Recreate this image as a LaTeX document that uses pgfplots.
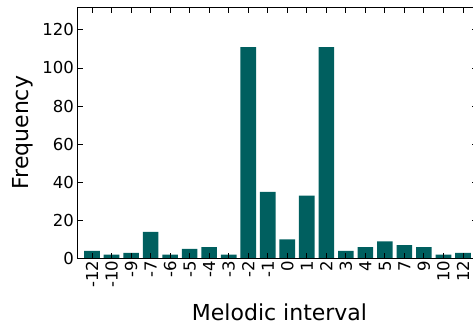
\documentclass[border=0pt]{standalone}
\usepackage{fontspec}
\setmainfont{DejaVu Sans}
\usepackage{pgfplots}
\usepackage{pgfplotstable}
\pgfplotsset{compat=1.18}

\definecolor{barteal}{HTML}{005F5F}

% interval counts, one row per interval
\pgfplotstableread{
idx label val
0  -12 4
1  -10 2
2  -9  3
3  -7  14
4  -6  2
5  -5  5
6  -4  6
7  -3  2
8  -2  111
9  -1  35
10 0   10
11 1   33
12 2   111
13 3   4
14 4   6
15 5   9
16 7   7
17 9   6
18 10  2
19 12  3
}\intervals

\begin{document}
\begin{tikzpicture}
\useasboundingbox (0,0) rectangle (473pt,325pt);
\begin{axis}[
  at={(77pt,66.5pt)}, anchor=south west,
  scale only axis,
  width=401pt, height=251.5pt,
  xmin=-0.77, xmax=19.77,
  ymin=0, ymax=132,
  xtick=data,
  xticklabels from table={\intervals}{label},
  ytick={0,20,40,60,80,100,120},
  tick align=inside,
  tick pos=both,
  xticklabel pos=lower,
  yticklabel pos=left,
  major tick length=6pt,
  every tick/.style={black, line width=0.9pt},
  axis line style={line width=1pt},
  axis on top,
  tick label style={font=\fontsize{16.5}{19}\selectfont},
  /pgf/number format/assume math mode=true,
  xticklabel style={rotate=90, anchor=east, inner sep=2pt},
  yticklabel style={inner sep=3pt},
  xlabel={Melodic interval},
  ylabel={Frequency},
  every axis x label/.style={at={(axis description cs:0.505,-0.2445)}, anchor=base,
    font=\fontsize{22}{26}\selectfont},
  every axis y label/.style={at={(axis description cs:-0.135,0.5)}, rotate=90, anchor=center,
    font=\fontsize{22}{26}\selectfont},
]
\addplot[ybar, bar width=0.8, fill=barteal, draw=none] table[x=idx, y=val] {\intervals};
\end{axis}
\end{tikzpicture}
\end{document}
